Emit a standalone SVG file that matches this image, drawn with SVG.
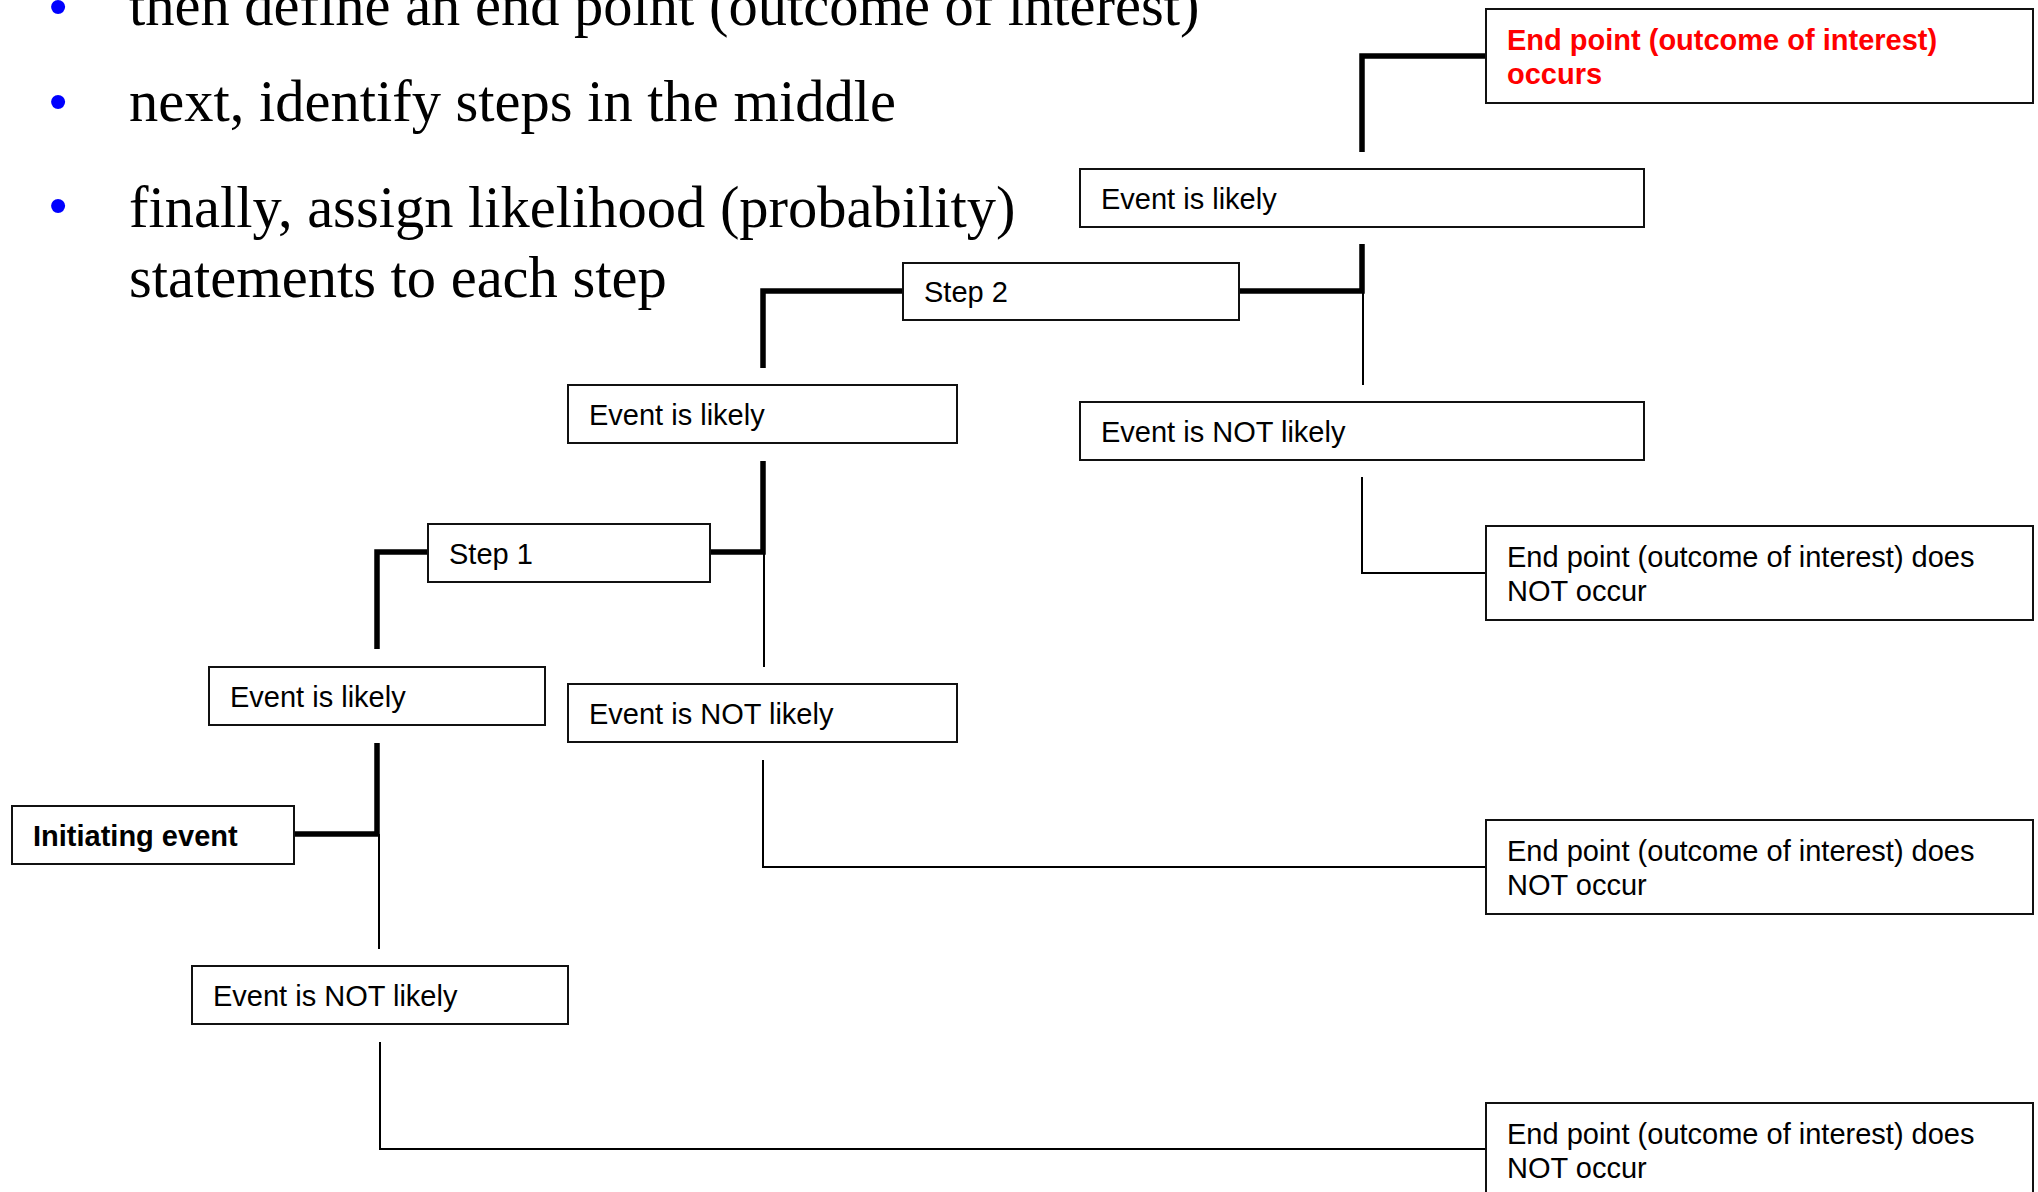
<svg xmlns="http://www.w3.org/2000/svg" width="2038" height="1192" viewBox="0 0 2038 1192">
<style>
.box{fill:#fff;stroke:#111;stroke-width:2}
.t{font-family:"Liberation Sans",Arial,sans-serif;font-size:29px;fill:#000}
.b{font-weight:bold}
.red{fill:#FF0000;font-weight:bold}
.bul{font-family:"Liberation Serif","Times New Roman",serif;font-size:58.5px;fill:#000}
.dot{font-family:"Liberation Sans",Arial,sans-serif;font-size:52px;fill:#0000FF}
.thick{fill:none;stroke:#000;stroke-width:5.5}
.thin{fill:none;stroke:#000;stroke-width:2}
</style>
<rect width="2038" height="1192" fill="#fff"/>
<g id="bullets">
<text class="dot" x="58" y="24" text-anchor="middle">•</text>
<text class="bul" x="129" y="25">then define an end point (outcome of interest)</text>
<text class="dot" x="58" y="119" text-anchor="middle">•</text>
<text class="bul" x="129" y="121">next, identify steps in the middle</text>
<text class="dot" x="58" y="223" text-anchor="middle">•</text>
<text class="bul" x="129" y="227">finally, assign likelihood (probability)</text>
<text class="bul" x="129" y="297">statements to each step</text>
</g>
<g id="connectors">
<path class="thick" d="M288 834 H377 V743"/>
<path class="thick" d="M377 649 V552 H428"/>
<path class="thick" d="M710 552 H763 V461"/>
<path class="thick" d="M763 368 V291 H903"/>
<path class="thick" d="M1239 291 H1362 V244"/>
<path class="thick" d="M1362 152 V56 H1486"/>
<path class="thin" d="M379 834 V949"/>
<path class="thin" d="M380 1042 V1149 H1486"/>
<path class="thin" d="M764 552 V667"/>
<path class="thin" d="M763 760 V867 H1486"/>
<path class="thin" d="M1363 291 V385"/>
<path class="thin" d="M1362 477 V573 H1486"/>
</g>
<g id="end-occurs"><rect class="box" x="1486" y="9" width="547" height="94"/><text class="t red" x="1507" y="50">End point (outcome of interest)</text><text class="t red" x="1507" y="84">occurs</text></g>
<g id="likely-3"><rect class="box" x="1080" y="169" width="564" height="58"/><text class="t" x="1101" y="209">Event is likely</text></g>
<g id="step-2"><rect class="box" x="903" y="263" width="336" height="57"/><text class="t" x="924" y="302">Step 2</text></g>
<g id="likely-2"><rect class="box" x="568" y="385" width="389" height="58"/><text class="t" x="589" y="425">Event is likely</text></g>
<g id="not-likely-3"><rect class="box" x="1080" y="402" width="564" height="58"/><text class="t" x="1101" y="442">Event is NOT likely</text></g>
<g id="end-not-1"><rect class="box" x="1486" y="526" width="547" height="94"/><text class="t" x="1507" y="567">End point (outcome of interest) does</text><text class="t" x="1507" y="601">NOT occur</text></g>
<g id="step-1"><rect class="box" x="428" y="524" width="282" height="58"/><text class="t" x="449" y="564">Step 1</text></g>
<g id="likely-1"><rect class="box" x="209" y="667" width="336" height="58"/><text class="t" x="230" y="707">Event is likely</text></g>
<g id="not-likely-2"><rect class="box" x="568" y="684" width="389" height="58"/><text class="t" x="589" y="724">Event is NOT likely</text></g>
<g id="initiating"><rect class="box" x="12" y="806" width="282" height="58"/><text class="t b" x="33" y="846">Initiating event</text></g>
<g id="end-not-2"><rect class="box" x="1486" y="820" width="547" height="94"/><text class="t" x="1507" y="861">End point (outcome of interest) does</text><text class="t" x="1507" y="895">NOT occur</text></g>
<g id="not-likely-1"><rect class="box" x="192" y="966" width="376" height="58"/><text class="t" x="213" y="1006">Event is NOT likely</text></g>
<g id="end-not-3"><rect class="box" x="1486" y="1103" width="547" height="94"/><text class="t" x="1507" y="1144">End point (outcome of interest) does</text><text class="t" x="1507" y="1178">NOT occur</text></g>
</svg>
